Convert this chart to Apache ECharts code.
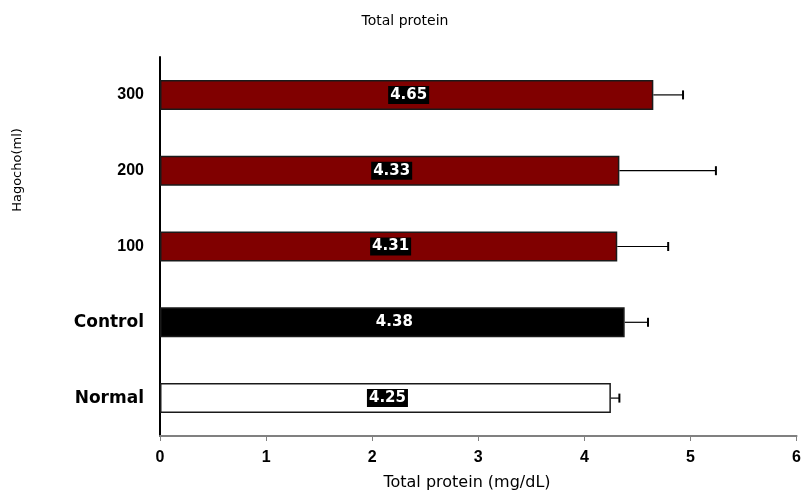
<!DOCTYPE html>
<html>
<head>
<meta charset="utf-8">
<script src="https://cdn.jsdelivr.net/npm/echarts@6/dist/echarts.min.js"></script>
<style>
  html, body { margin: 0; padding: 0; background: #fff; }
  #chart { width: 804px; height: 495px; }
</style>
</head>
<body>
<div id="chart"></div>
<script>
// Groups, bottom to top
const categories = ['Normal', 'Control', '100', '200', '300'];
// Mean total protein (mg/dL)
const means = [4.25, 4.38, 4.31, 4.33, 4.65];
// Standard deviation drawn as a one-sided error bar
const sds = [0.08, 0.22, 0.48, 0.91, 0.28];
// Bar fill per group
const fills = ['#ffffff', '#000000', '#800000', '#800000', '#800000'];
const xTicks = [0, 1, 2, 3, 4, 5, 6];

const chart = echarts.init(document.getElementById('chart'));

const errData = categories.map((c, i) => [i, means[i], means[i] + sds[i]]);
const WIDE = "'DejaVu Sans', Verdana, sans-serif";
const ARIAL = "'Liberation Sans', Arial, sans-serif";

chart.setOption({
  animation: false,
  title: {
    text: 'Total protein',
    left: 400, top: 9, textAlign: 'center',
    textStyle: { fontFamily: WIDE, fontSize: 14, fontWeight: 'normal', color: '#000' }
  },
  grid: { left: 160, right: 7, top: 57, bottom: 59, containLabel: false },
  xAxis: {
    type: 'value', min: 0, max: 6, interval: 1,
    axisLine: { show: true, lineStyle: { color: '#808080', width: 2 } },
    axisTick: { show: true, length: 5, lineStyle: { color: '#808080', width: 1 } },
    axisLabel: {
      margin: 14, fontFamily: ARIAL, fontSize: 16, fontWeight: 'bold', color: '#000',
      formatter: v => xTicks.includes(v) ? String(v) : ''
    },
    splitLine: { show: false }
  },
  yAxis: {
    type: 'category', data: categories,
    axisLine: { show: true, lineStyle: { color: '#000', width: 2 } },
    axisTick: { show: false },
    axisLabel: {
      margin: 16, color: '#000',
      formatter: v => /^\d+$/.test(v) ? '{num|' + v + '}' : '{word|' + v + '}',
      rich: {
        num: { fontFamily: ARIAL, fontSize: 16, fontWeight: 'bold', color: '#000' },
        word: { fontFamily: WIDE, fontSize: 17, fontWeight: 'bold', color: '#000' }
      }
    }
  },
  graphic: [
    {
      type: 'text',
      x: 18, y: 170, rotation: Math.PI / 2,
      style: {
        text: 'Hagocho(ml)', fontFamily: WIDE, fontSize: 13, fill: '#000',
        textAlign: 'center', textVerticalAlign: 'middle'
      }
    },
    {
      type: 'text',
      x: 467, y: 483,
      style: {
        text: 'Total protein (mg/dL)', fontFamily: WIDE, fontSize: 16, fill: '#000',
        textAlign: 'center', textVerticalAlign: 'middle'
      }
    }
  ],
  series: [
    {
      type: 'bar',
      barWidth: 30,
      data: means.map((v, i) => ({
        value: v,
        itemStyle: { color: fills[i], borderColor: '#1a1a1a', borderWidth: 1.5 }
      })),
      label: {
        show: true, position: 'inside', offset: [2, 0],
        formatter: p => p.value.toFixed(2),
        fontFamily: WIDE, fontSize: 15, fontWeight: 'bold', color: '#fff',
        backgroundColor: '#000', padding: [2, 2, 1, 2]
      },
      z: 2
    },
    {
      type: 'custom',
      data: errData,
      z: 1,
      renderItem: (params, api) => {
        const idx = api.value(0);
        const start = api.coord([api.value(1), idx]);
        const end = api.coord([api.value(2), idx]);
        const cap = 4.5;
        return {
          type: 'group',
          children: [
            { type: 'line', shape: { x1: start[0], y1: start[1], x2: end[0], y2: end[1] },
              style: { stroke: '#000', lineWidth: 1.2 } },
            { type: 'line', shape: { x1: end[0], y1: end[1] - cap, x2: end[0], y2: end[1] + cap },
              style: { stroke: '#000', lineWidth: 2 } }
          ]
        };
      }
    }
  ]
});
</script>
</body>
</html>
